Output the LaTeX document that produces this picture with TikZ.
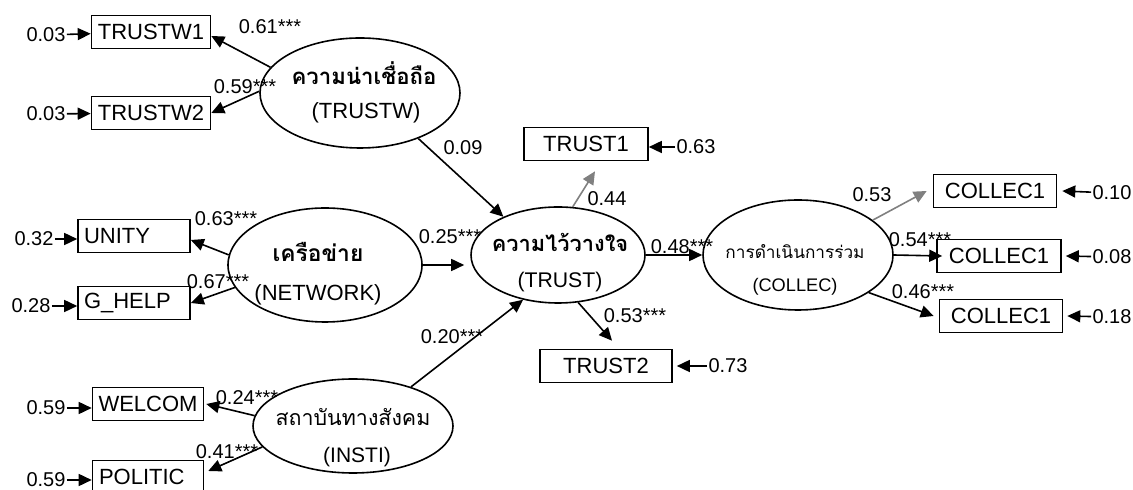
\documentclass[tikz,border=0pt]{standalone}
\usepackage{fontspec}
\setmainfont{Liberation Sans}
\newfontfamily\thaifont[Script=Thai]{Loma}
\usepackage{xcolor}
\usepackage{tikz}
\usetikzlibrary{shapes.geometric,arrows.meta}
\tikzset{
	% The latent variables
	latent/.style={
		draw,ellipse,line width=0.8pt,inner sep=0pt
	},
	% The names written inside the latent variables
	latent_name/.style={
		inner sep=0pt,font=\fontsize{11}{13}\selectfont
	},
	% The observed indicators
	indicator/.style={
		draw,rectangle,line width=0.8pt,minimum height=16.5pt,inner sep=2pt,font=\fontsize{11}{13}\selectfont
	},
	% The error terms
	errterm/.style={
		inner sep=0.5pt,font=\fontsize{10}{12}\selectfont
	},
	% The path coefficients
	coef/.style={
		inner sep=0pt,font=\fontsize{10}{12}\selectfont
	},
	% The significant paths
	path/.style={
		line width=0.8pt,-{Triangle[length=6.5pt,width=6pt]}
	},
	% The paths that were fixed
	fixedpath/.style={
		line width=0.8pt,draw=gray,-{Triangle[length=6.5pt,width=6pt]}
	},
}
\begin{document}
\begin{tikzpicture}[x=0.5pt,y=-0.5pt]
		\useasboundingbox (0,0) rectangle (1133,490);
		\clip (0,0) rectangle (1133,490);

		% Latent variables
		\node [latent,minimum width=100pt,minimum height=55pt] (TRUSTW) at (360,93) {};
		\node [latent,minimum width=97pt,minimum height=57pt] (NETWORK) at (325,265) {};
		\node [latent,minimum width=100pt,minimum height=47pt] (INSTI) at (353,426) {};
		\node [latent,minimum width=87pt,minimum height=48pt] (TRUST) at (558,255) {};
		\node [latent,minimum width=95pt,minimum height=55pt] (COLLEC) at (798,255) {};

		\node [latent_name,font=\thaifont\bfseries\fontsize{11.1}{13}\selectfont] (TRUSTW_th) at (364,73) {ความน่าเชื่อถือ};
		\node [latent_name] (TRUSTW_en) at (366,113) {(TRUSTW)};
		\node [latent_name,font=\thaifont\bfseries\fontsize{11.4}{13}\selectfont] (NETWORK_th) at (318,252) {เครือข่าย};
		\node [latent_name] (NETWORK_en) at (318,295) {(NETWORK)};
		\node [latent_name,font=\thaifont\fontsize{10.7}{13}\selectfont] (INSTI_th) at (353,417) {สถาบันทางสังคม};
		\node [latent_name,font=\fontsize{10.5}{12}\selectfont] (INSTI_en) at (357,457) {(INSTI)};
		\node [latent_name,font=\thaifont\bfseries\fontsize{10.9}{13}\selectfont] (TRUST_th) at (560,242) {ความไว้วางใจ};
		\node [latent_name,font=\fontsize{10.6}{12}\selectfont] (TRUST_en) at (560,282) {(TRUST)};
		\node [latent_name,font=\thaifont\fontsize{8.6}{10}\selectfont] (COLLEC_th) at (795,252) {การดำเนินการร่วม};
		\node [latent_name,font=\fontsize{9.1}{11}\selectfont] (COLLEC_en) at (795,287) {(COLLEC)};

		% Indicators
		\node [indicator,minimum width=59.5pt] (TRUSTW1) at (151,32) {TRUSTW1};
		\node [indicator,minimum width=59.5pt] (TRUSTW2) at (151,113) {TRUSTW2};
		\node [indicator,minimum width=56pt,text width=50pt,align=left] (UNITY) at (134,236) {UNITY};
		\node [indicator,minimum width=56pt,text width=50pt,align=left] (G_HELP) at (134,303) {G\_HELP};
		\node [indicator,minimum width=55.5pt] (WELCOM) at (148,404) {WELCOM};
		\node [indicator,minimum width=55.5pt,text width=49pt,align=left] (POLITIC) at (148,477) {POLITIC};
		\node [indicator,minimum width=62pt] (TRUST1) at (586,144) {TRUST1};
		\node [indicator,minimum width=66pt] (TRUST2) at (606,366) {TRUST2};
		\node [indicator,minimum width=61.5pt] (COLLEC1a) at (995,191) {COLLEC1};
		\node [indicator,minimum width=62pt] (COLLEC1b) at (999,256) {COLLEC1};
		\node [indicator,minimum width=61.5pt] (COLLEC1c) at (1001,316) {COLLEC1};

		% Error terms
		\node [errterm] (e_TRUSTW1) at (46,35) {0.03};
		\node [errterm] (e_TRUSTW2) at (46,114) {0.03};
		\node [errterm] (e_UNITY) at (34,239) {0.32};
		\node [errterm] (e_G_HELP) at (31,306) {0.28};
		\node [errterm] (e_WELCOM) at (46,408) {0.59};
		\node [errterm] (e_POLITIC) at (46,480) {0.59};
		\node [errterm] (e_TRUST1) at (696,147) {0.63};
		\node [errterm] (e_TRUST2) at (728,366) {0.73};
		\node [errterm] (e_COLLEC1a) at (1112,193) {0.10};
		\node [errterm] (e_COLLEC1b) at (1112,257) {0.08};
		\node [errterm] (e_COLLEC1c) at (1112,317) {0.18};

		\draw [path] (e_TRUSTW1) -- (TRUSTW1);
		\draw [path] (e_TRUSTW2) -- (TRUSTW2);
		\draw [path] (e_UNITY.east) -- (UNITY.west |- e_UNITY.east);
		\draw [path] (e_G_HELP.east) -- (G_HELP.west |- e_G_HELP.east);
		\draw [path] (e_WELCOM.east) -- (WELCOM.west |- e_WELCOM.east);
		\draw [path] (e_POLITIC.east) -- (POLITIC.west |- e_POLITIC.east);
		\draw [path] (e_TRUST1.west) -- (TRUST1.east |- e_TRUST1.west);
		\draw [path] (e_TRUST2) -- ([xshift=2pt]TRUST2.east);
		\draw [path] (e_COLLEC1a) -- ([xshift=2.5pt]COLLEC1a.east);
		\draw [path] (e_COLLEC1b) -- ([xshift=2pt]COLLEC1b.east);
		\draw [path] (e_COLLEC1c) -- ([xshift=2pt]COLLEC1c.east);

		% Measurement paths
		\draw [path] (TRUSTW.164) -- ([yshift=-2pt]TRUSTW1.east);
		\draw [path] (TRUSTW.179) -- (TRUSTW2.east);
		\draw [path] (NETWORK.174) -- ([yshift=-2pt]UNITY.east);
		\draw [path] (NETWORK.194) -- (G_HELP.east);
		\draw [path] (INSTI.174) -- ([xshift=1pt]WELCOM.east);
		\draw [path] (INSTI.193) -- ([xshift=2pt,yshift=3pt]POLITIC.east);
		\draw [fixedpath] (TRUST.73) -- ([xshift=4.5pt,yshift=-5pt]TRUST1.south);
		\draw [path] (TRUST.293) -- ([xshift=3pt,yshift=4pt]TRUST2.north);
		\draw [fixedpath] (COLLEC.25) -- ([xshift=-3pt]COLLEC1a.west);
		\draw [path] (COLLEC.east) -- ([xshift=3pt]COLLEC1b.west);
		\draw [path] (COLLEC.332) -- ([xshift=-2.5pt]COLLEC1c.west);

		% Structural paths
		\draw [path] (TRUSTW.322) -- (TRUST.145);
		\draw [path] (NETWORK.east) -- ([xshift=-3pt]NETWORK.east -| TRUST.west);
		\draw [path] (INSTI.34) -- (TRUST.232);
		\draw [path] (TRUST.east) -- (COLLEC.west);

		% Coefficients
		\node [coef] (c_TRUSTW1) at (270,27) {0.61***};
		\node [coef] (c_TRUSTW2) at (245,87) {0.59***};
		\node [coef] (c_UNITY) at (226,219) {0.63***};
		\node [coef] (c_G_HELP) at (218,282) {0.67***};
		\node [coef] (c_WELCOM) at (247,398) {0.24***};
		\node [coef] (c_POLITIC) at (227,452) {0.41***};
		\node [coef] (c_TRUSTW) at (463,148) {0.09};
		\node [coef] (c_NETWORK) at (450,237) {0.25***};
		\node [coef] (c_INSTI) at (452,337) {0.20***};
		\node [coef] (c_TRUST1) at (607,199) {0.44};
		\node [coef] (c_TRUST2) at (635,316) {0.53***};
		\node [coef] (c_COLLEC) at (682,247) {0.48***};
		\node [coef] (c_COLLEC1a) at (872,195) {0.53};
		\node [coef] (c_COLLEC1b) at (920,240) {0.54***};
		\node [coef] (c_COLLEC1c) at (923,292) {0.46***};

	\end{tikzpicture}
\end{document}
